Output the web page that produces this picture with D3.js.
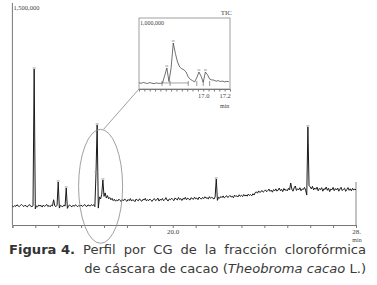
<!DOCTYPE html>
<html><head><meta charset="utf-8">
<script src="https://cdn.jsdelivr.net/npm/d3@7"></script>
<style>html,body{margin:0;padding:0;background:#fff;}svg{display:block;}</style>
</head><body>
<svg id="c" width="377" height="285"></svg>
<script>
// ---- data (intensity in thousands of counts) ----
const mainStart = 13.0, mainStep = 0.05;
const ticMain = [
133,127,136,130,141,134,128,137,143,135,
129,138,132,126,137,142,131,128,134,1088,
112,133,127,140,132,137,125,139,130,136,
143,129,136,127,139,133,176,134,128,138,
300,118,137,131,128,139,132,258,116,134,
140,131,127,138,130,141,135,128,137,131,
139,130,134,143,133,129,140,136,132,142,
136,141,128,363,698,118,196,182,214,314,
200,224,188,205,183,192,176,186,170,179,
166,175,168,180,171,164,177,169,182,172,
165,178,170,184,167,176,172,163,181,174,
169,183,171,166,179,175,186,168,177,170,
181,172,165,178,184,170,176,188,167,179,
173,185,169,177,191,174,168,182,176,187,
178,170,189,181,175,192,177,184,171,186,
180,193,176,187,182,174,190,185,179,194,
183,188,177,195,186,181,192,184,197,187,
190,182,198,186,193,188,181,196,321,172,
194,187,199,191,203,189,196,205,192,198,
206,195,201,190,208,199,204,196,211,200,
207,198,213,203,209,201,216,206,212,204,
218,209,226,231,222,238,227,233,241,229,
236,245,232,240,251,235,243,229,247,238,
252,236,244,258,239,249,233,255,242,247,
238,256,244,293,250,236,259,272,241,253,
245,260,239,251,248,262,243,209,684,274,
266,252,270,245,258,249,264,238,255,247,
260,236,253,248,265,242,257,233,251,246,
262,239,254,244,258,236,251,263,240,249,
257,235,248,261,242,253,238,256,244,250,
246];
const mainPeaks = [13.95, 15.00, 15.35, 16.65, 16.70, 16.95, 21.90, 25.90];
const mainTicks = [13,14,15,16,17,18,19,20,21,22,23,24,25,26,27,28];
const mainTickLabels = {20: "20.0", 28: "28."};
const mainYMaxLabel = "1,500,000";

const insetStart = 16.40, insetStep = 0.02;
const ticInset = [
88,80,92,84,78,90,82,75,86,80,
79,85,190,296,105,300,648,500,380,310,
285,270,240,170,135,118,100,160,239,180,
95,239,200,140,128,125,110,118,105,112,
100,108,103];
const insetMarks = [16.615, 16.69, 16.86, 16.94, 17.00, 17.06];
const insetPeaks = [16.66, 16.72, 16.96, 17.02];
const insetTicks = [16.45,16.5,16.55,16.6,16.65,16.7,16.75,16.8,16.85,16.9,16.95,17.0,17.05,17.1,17.15,17.2];
const insetTickLabels = {"17.0": "17.0", "17.2": "17.2"};
const insetYMaxLabel = "1,000,000";

const captionLine1 = ["Perfil","por","CG","de","la","fracción","clorofórmica"];

// ---- drawing ----
const svg = d3.select("#c");
const serif = "'Liberation Serif','DejaVu Serif',serif";
const sans = "'DejaVu Sans',Verdana,sans-serif";

const x = d3.scaleLinear().domain([13, 28]).range([12.4, 356]);
const y = d3.scaleLinear().domain([0, 1500]).range([225, 10]);
const mainData = ticMain.map((v,i)=>({t: mainStart + i*mainStep, v}));

// axes
svg.append("line").attr("x1",x(13)).attr("x2",x(13)).attr("y1",3).attr("y2",y(0))
  .attr("stroke","#777").attr("stroke-width",1);
const xa = svg.append("g").attr("transform",`translate(0,${y(0)})`)
  .call(d3.axisBottom(x).tickValues(mainTicks).tickSize(3).tickFormat(d=>mainTickLabels[d]||""));
xa.select(".domain").attr("stroke","#777");
xa.selectAll(".tick line").attr("stroke","#777");
xa.selectAll(".tick text").attr("font-family",serif).attr("font-size",7).attr("fill","#444")
  .attr("y",5).attr("dy","0.6em");
svg.append("text").attr("x",x(28)+1).attr("y",241.5).attr("text-anchor","middle")
  .attr("font-family",serif).attr("font-size",6).attr("fill","#444").text("min");
svg.append("text").attr("x",x(13)+1).attr("y",10).attr("font-family",serif).attr("font-size",6.5)
  .attr("fill","#444").text(mainYMaxLabel);
// right end line
svg.append("line").attr("x1",x(28)).attr("x2",x(28)).attr("y1",y(300)).attr("y2",y(0))
  .attr("stroke","#888").attr("stroke-width",1);

// trace
svg.append("path").datum(mainData)
  .attr("d", d3.line().x(d=>x(d.t)).y(d=>y(d.v)))
  .attr("fill","none").attr("stroke","#1a1a1a").attr("stroke-width",1);
// peak markers
const pv = t => mainData[Math.round((t-mainStart)/mainStep)].v;
svg.selectAll(".pk").data(mainPeaks).join("line")
  .attr("x1",d=>x(d)-1.5).attr("x2",d=>x(d)+1.5).attr("y1",d=>y(pv(d))-1).attr("y2",d=>y(pv(d))-1)
  .attr("stroke","#999").attr("stroke-width",1);

// ellipse
const ecx = x(16.85), ecy = y(270);
svg.append("ellipse").attr("cx",ecx).attr("cy",ecy).attr("rx",22).attr("ry",57)
  .attr("fill","none").attr("stroke","#888").attr("stroke-width",0.8);

// inset
const xi = d3.scaleLinear().domain([16.40, 17.25]).range([139, 230]);
const yi = d3.scaleLinear().domain([0, 1000]).range([89, 18]);
svg.append("line").attr("x1",ecx+3).attr("y1",ecy-57).attr("x2",xi(16.40)).attr("y2",yi(0))
  .attr("stroke","#888").attr("stroke-width",0.8);
svg.append("rect").attr("x",xi(16.40)).attr("y",yi(1000)).attr("width",xi(17.25)-xi(16.40))
  .attr("height",yi(0)-yi(1000)).attr("fill","#fff").attr("stroke","#888").attr("stroke-width",0.8);
const xia = svg.append("g").attr("transform",`translate(0,${yi(0)})`)
  .call(d3.axisBottom(xi).tickValues(insetTicks).tickSize(2.5).tickFormat(d=>insetTickLabels[d.toFixed(1)] && Math.abs(d*10-Math.round(d*10))<1e-6 ? insetTickLabels[d.toFixed(1)] : ""));
xia.select(".domain").attr("stroke","#777");
xia.selectAll(".tick line").attr("stroke","#777");
xia.selectAll(".tick text").attr("font-family",serif).attr("font-size",6.5).attr("fill","#444").attr("dy","0.55em");
svg.append("text").attr("x",xi(17.2)).attr("y",108).attr("text-anchor","middle")
  .attr("font-family",serif).attr("font-size",6).attr("fill","#444").text("min");
svg.append("text").attr("x",xi(17.25)+2).attr("y",15).attr("text-anchor","end")
  .attr("font-family",serif).attr("font-size",7).attr("fill","#444").text("TIC");
svg.append("text").attr("x",xi(16.40)+1).attr("y",25).attr("font-family",serif).attr("font-size",6)
  .attr("fill","#444").text(insetYMaxLabel);
const insetData = ticInset.map((v,i)=>({t: insetStart + i*insetStep, v}));
svg.append("path").datum(insetData)
  .attr("d", d3.line().x(d=>xi(d.t)).y(d=>yi(d.v)))
  .attr("fill","none").attr("stroke","#333").attr("stroke-width",0.7);
// integration baseline + marks
svg.append("line").attr("x1",xi(insetMarks[0])).attr("x2",xi(insetMarks[2])).attr("y1",yi(85)).attr("y2",yi(85))
  .attr("stroke","#666").attr("stroke-width",0.6);
svg.selectAll(".im").data(insetMarks).join("line")
  .attr("x1",d=>xi(d)).attr("x2",d=>xi(d)).attr("y1",yi(85)-2).attr("y2",yi(85)+3)
  .attr("stroke","#666").attr("stroke-width",0.7);
const iv = t => insetData[Math.round((t-insetStart)/insetStep)].v;
svg.selectAll(".ip").data(insetPeaks).join("line")
  .attr("x1",d=>xi(d)-1.5).attr("x2",d=>xi(d)+1.5).attr("y1",d=>yi(iv(d))-2).attr("y2",d=>yi(iv(d))-2)
  .attr("stroke","#999").attr("stroke-width",1);

// caption
const fs = 13.1;
const cap1 = svg.append("g").attr("font-family",sans).attr("font-size",fs).attr("fill","#3a3a3a");
const fig = cap1.append("text").attr("x",9).attr("y",254).attr("font-weight","bold").attr("fill","#333").text("Figura 4.");
const rightEdge = 366;
const words = captionLine1.map(w => cap1.append("text").attr("y",254).text(w));
const startX = 9 + fig.node().getComputedTextLength();
const total = words.reduce((s,w)=>s+w.node().getComputedTextLength(),0);
const gap = (rightEdge - startX - total)/words.length;
let cx = startX + gap;
words.forEach(w=>{ w.attr("x",cx); cx += w.node().getComputedTextLength() + gap; });
const l2 = svg.append("text").attr("x",rightEdge).attr("y",272.5).attr("text-anchor","end")
  .attr("font-family",sans).attr("font-size",fs).attr("fill","#3a3a3a");
l2.append("tspan").text("de cáscara de cacao (");
l2.append("tspan").attr("font-style","italic").text("Theobroma cacao");
l2.append("tspan").text(" L.)");
</script>
</body></html>
